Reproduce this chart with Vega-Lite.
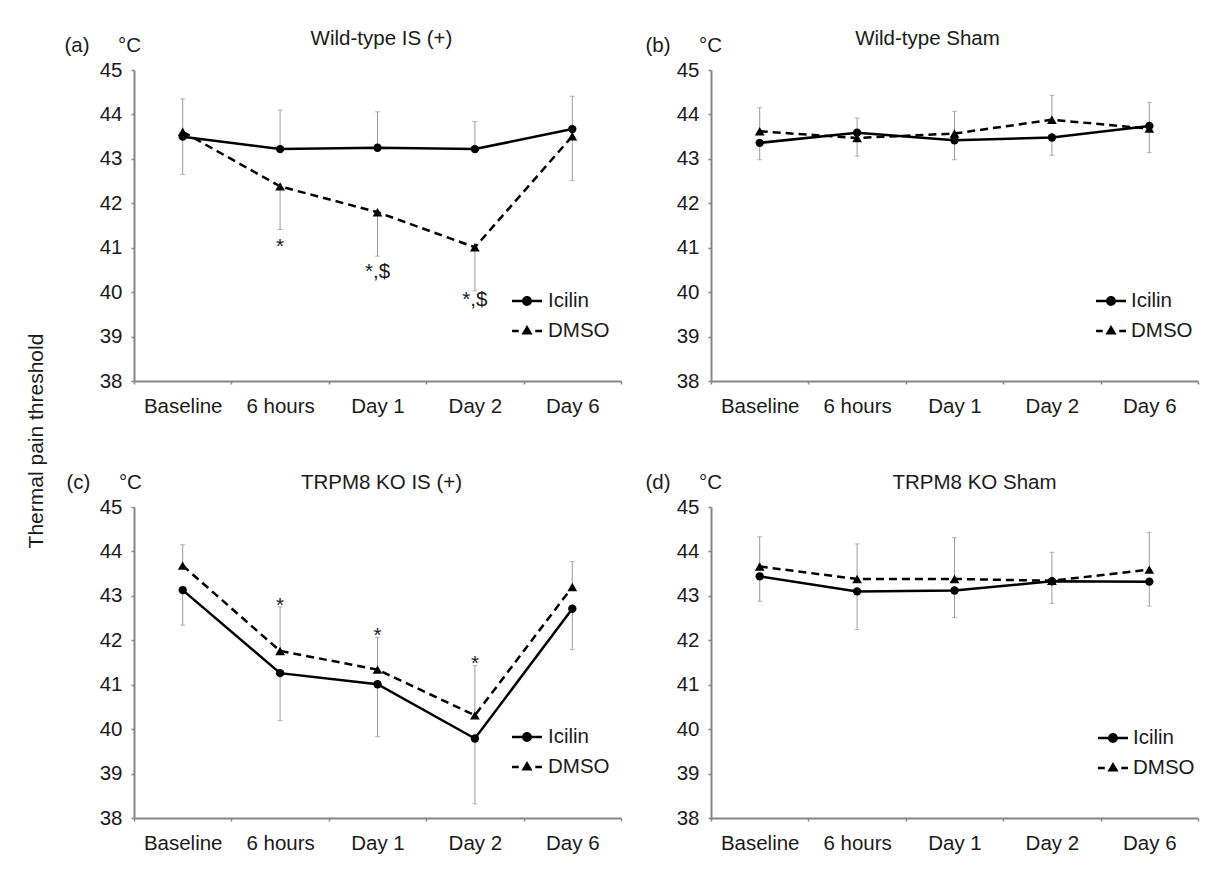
{
  "$schema": "https://vega.github.io/schema/vega-lite/v6.json",
  "padding": {"left": 25, "top": 28, "right": 5, "bottom": 5},
  "title": {"text": "Thermal pain threshold", "orient": "left", "anchor": "middle", "frame": "bounds", "fontSize": 21, "offset": 17},
  "datasets": {
    "pts": [
      {"panel": "a", "time": "Baseline", "i": 0, "treatment": "Icilin", "value": 43.50, "err": 44.35},
      {"panel": "a", "time": "6 hours", "i": 1, "treatment": "Icilin", "value": 43.22, "err": 44.10},
      {"panel": "a", "time": "Day 1", "i": 2, "treatment": "Icilin", "value": 43.25, "err": 44.06},
      {"panel": "a", "time": "Day 2", "i": 3, "treatment": "Icilin", "value": 43.22, "err": 43.84},
      {"panel": "a", "time": "Day 6", "i": 4, "treatment": "Icilin", "value": 43.67, "err": 44.41},
      {"panel": "a", "time": "Baseline", "i": 0, "treatment": "DMSO", "value": 43.61, "err": 42.65},
      {"panel": "a", "time": "6 hours", "i": 1, "treatment": "DMSO", "value": 42.38, "err": 41.41},
      {"panel": "a", "time": "Day 1", "i": 2, "treatment": "DMSO", "value": 41.80, "err": 40.81},
      {"panel": "a", "time": "Day 2", "i": 3, "treatment": "DMSO", "value": 41.01, "err": 40.03},
      {"panel": "a", "time": "Day 6", "i": 4, "treatment": "DMSO", "value": 43.51, "err": 42.51},
      {"panel": "b", "time": "Baseline", "i": 0, "treatment": "Icilin", "value": 43.36, "err": 42.98},
      {"panel": "b", "time": "6 hours", "i": 1, "treatment": "Icilin", "value": 43.59, "err": 43.92},
      {"panel": "b", "time": "Day 1", "i": 2, "treatment": "Icilin", "value": 43.42, "err": 42.98},
      {"panel": "b", "time": "Day 2", "i": 3, "treatment": "Icilin", "value": 43.48, "err": 43.08},
      {"panel": "b", "time": "Day 6", "i": 4, "treatment": "Icilin", "value": 43.74, "err": 44.27},
      {"panel": "b", "time": "Baseline", "i": 0, "treatment": "DMSO", "value": 43.62, "err": 44.15},
      {"panel": "b", "time": "6 hours", "i": 1, "treatment": "DMSO", "value": 43.47, "err": 43.06},
      {"panel": "b", "time": "Day 1", "i": 2, "treatment": "DMSO", "value": 43.57, "err": 44.07},
      {"panel": "b", "time": "Day 2", "i": 3, "treatment": "DMSO", "value": 43.88, "err": 44.43},
      {"panel": "b", "time": "Day 6", "i": 4, "treatment": "DMSO", "value": 43.68, "err": 43.14},
      {"panel": "c", "time": "Baseline", "i": 0, "treatment": "Icilin", "value": 43.13, "err": 42.34},
      {"panel": "c", "time": "6 hours", "i": 1, "treatment": "Icilin", "value": 41.26, "err": 40.19},
      {"panel": "c", "time": "Day 1", "i": 2, "treatment": "Icilin", "value": 41.01, "err": 39.83},
      {"panel": "c", "time": "Day 2", "i": 3, "treatment": "Icilin", "value": 39.79, "err": 38.32},
      {"panel": "c", "time": "Day 6", "i": 4, "treatment": "Icilin", "value": 42.71, "err": 41.79},
      {"panel": "c", "time": "Baseline", "i": 0, "treatment": "DMSO", "value": 43.68, "err": 44.15},
      {"panel": "c", "time": "6 hours", "i": 1, "treatment": "DMSO", "value": 41.76, "err": 42.75},
      {"panel": "c", "time": "Day 1", "i": 2, "treatment": "DMSO", "value": 41.34, "err": 42.07},
      {"panel": "c", "time": "Day 2", "i": 3, "treatment": "DMSO", "value": 40.31, "err": 41.43},
      {"panel": "c", "time": "Day 6", "i": 4, "treatment": "DMSO", "value": 43.20, "err": 43.77},
      {"panel": "d", "time": "Baseline", "i": 0, "treatment": "Icilin", "value": 43.44, "err": 42.88},
      {"panel": "d", "time": "6 hours", "i": 1, "treatment": "Icilin", "value": 43.10, "err": 42.24},
      {"panel": "d", "time": "Day 1", "i": 2, "treatment": "Icilin", "value": 43.12, "err": 42.51},
      {"panel": "d", "time": "Day 2", "i": 3, "treatment": "Icilin", "value": 43.33, "err": 42.83},
      {"panel": "d", "time": "Day 6", "i": 4, "treatment": "Icilin", "value": 43.32, "err": 42.77},
      {"panel": "d", "time": "Baseline", "i": 0, "treatment": "DMSO", "value": 43.66, "err": 44.33},
      {"panel": "d", "time": "6 hours", "i": 1, "treatment": "DMSO", "value": 43.38, "err": 44.17},
      {"panel": "d", "time": "Day 1", "i": 2, "treatment": "DMSO", "value": 43.38, "err": 44.31},
      {"panel": "d", "time": "Day 2", "i": 3, "treatment": "DMSO", "value": 43.34, "err": 43.98},
      {"panel": "d", "time": "Day 6", "i": 4, "treatment": "DMSO", "value": 43.59, "err": 44.43}
    ],
    "ann": [
      {"panel": "a", "time": "6 hours", "label": "*", "y": 40.89},
      {"panel": "a", "time": "Day 1", "label": "*,$", "y": 40.32},
      {"panel": "a", "time": "Day 2", "label": "*,$", "y": 39.68},
      {"panel": "c", "time": "6 hours", "label": "*", "y": 42.64},
      {"panel": "c", "time": "Day 1", "label": "*", "y": 41.97},
      {"panel": "c", "time": "Day 2", "label": "*", "y": 41.33}
    ]
  },
  "columns": 2,
  "spacing": {"row": 55, "column": 23},
  "resolve": {"scale": {"shape": "independent"}, "legend": {"shape": "independent"}},
  "concat": [
    {
      "width": 487, "height": 311,
      "title": {"text": "Wild-type IS (+)", "dx": 4, "dy": 18},
      "encoding": {
        "x": {"field": "time", "type": "nominal", "sort": ["Baseline", "6 hours", "Day 1", "Day 2", "Day 6"], "scale": {"type": "band", "paddingInner": 0, "paddingOuter": 0}, "axis": {"title": null}},
        "y": {"field": "value", "type": "quantitative", "scale": {"domain": [38, 45], "nice": false, "zero": false}, "axis": {"title": "(a)\u00a0\u00a0\u00a0\u00a0\u00a0°C", "titleX": -70, "titleY": -19}}
      },
      "layer": [
        {"data": {"name": "pts"}, "transform": [{"filter": "datum.panel === 'a'"}], "mark": {"type": "rule", "color": "#9a9a9a", "strokeWidth": 1}, "encoding": {"y2": {"field": "err"}}},
        {"data": {"name": "pts"}, "transform": [{"filter": "datum.panel === 'a'"}], "mark": {"type": "tick", "orient": "horizontal", "size": 5, "thickness": 1, "color": "#9a9a9a"}, "encoding": {"y": {"field": "err", "type": "quantitative", "scale": {"domain": [38, 45], "nice": false, "zero": false}, "axis": {"title": "(a)\u00a0\u00a0\u00a0\u00a0\u00a0°C", "titleX": -70, "titleY": -19}}}},
        {"data": {"name": "pts"}, "transform": [{"filter": "datum.panel === 'a' && datum.treatment === 'Icilin'"}], "mark": {"type": "line", "color": "black", "strokeWidth": 2.5}, "encoding": {"order": {"field": "i"}}},
        {"data": {"name": "pts"}, "transform": [{"filter": "datum.panel === 'a' && datum.treatment === 'DMSO'"}], "mark": {"type": "line", "color": "black", "strokeWidth": 2.5, "strokeDash": [8, 5]}, "encoding": {"order": {"field": "i"}}},
        {"data": {"name": "pts"}, "transform": [{"filter": "datum.panel === 'a' && datum.treatment === 'Icilin'"}], "mark": {"type": "point", "shape": "circle", "filled": true, "color": "black", "opacity": 1, "size": 70}},
        {"data": {"name": "pts"}, "transform": [{"filter": "datum.panel === 'a' && datum.treatment === 'DMSO'"}], "mark": {"type": "point", "shape": "triangle-up", "filled": true, "color": "black", "opacity": 1, "size": 95}},
        {"data": {"name": "pts"}, "transform": [{"filter": "datum.panel === 'a' && datum.i < 0"}], "mark": {"type": "point", "filled": true, "color": "black", "opacity": 1}, "encoding": {"shape": {"field": "treatment", "type": "nominal", "scale": {"domain": ["Icilin", "DMSO"], "range": ["M-1,-0.085L1,-0.085L1,0.085L-1,0.085ZM-0.33,0A0.33,0.33,0,1,1,0.33,0A0.33,0.33,0,1,1,-0.33,0Z", "M-1,-0.085L-0.55,-0.085L-0.55,0.085L-1,0.085ZM0.55,-0.085L1,-0.085L1,0.085L0.55,0.085ZM0,-0.4L0.37,0.24L-0.37,0.24Z"]}, "legend": {"title": null, "orient": "none", "legendX": 377, "legendY": 215, "symbolSize": 900, "labelFontSize": 20.5, "labelOffset": 5, "rowPadding": 3, "padding": 0, "labelColor": "#1a1a1a"}}}},
        {"data": {"name": "ann"}, "transform": [{"filter": "datum.panel === 'a'"}], "mark": {"type": "text", "fontSize": 20.5, "baseline": "alphabetic", "color": "#1a1a1a"}, "encoding": {"text": {"field": "label"}, "y": {"field": "y", "type": "quantitative", "scale": {"domain": [38, 45], "nice": false, "zero": false}, "axis": {"title": "(a)\u00a0\u00a0\u00a0\u00a0\u00a0°C", "titleX": -70, "titleY": -19}}}}
      ]
    },
    {
      "width": 487, "height": 311,
      "title": {"text": "Wild-type Sham", "dx": -27, "dy": 18},
      "encoding": {
        "x": {"field": "time", "type": "nominal", "sort": ["Baseline", "6 hours", "Day 1", "Day 2", "Day 6"], "scale": {"type": "band", "paddingInner": 0, "paddingOuter": 0}, "axis": {"title": null}},
        "y": {"field": "value", "type": "quantitative", "scale": {"domain": [38, 45], "nice": false, "zero": false}, "axis": {"title": "(b)\u00a0\u00a0\u00a0\u00a0\u00a0°C", "titleX": -66, "titleY": -19}}
      },
      "layer": [
        {"data": {"name": "pts"}, "transform": [{"filter": "datum.panel === 'b'"}], "mark": {"type": "rule", "color": "#9a9a9a", "strokeWidth": 1}, "encoding": {"y2": {"field": "err"}}},
        {"data": {"name": "pts"}, "transform": [{"filter": "datum.panel === 'b'"}], "mark": {"type": "tick", "orient": "horizontal", "size": 5, "thickness": 1, "color": "#9a9a9a"}, "encoding": {"y": {"field": "err", "type": "quantitative", "scale": {"domain": [38, 45], "nice": false, "zero": false}, "axis": {"title": "(b)\u00a0\u00a0\u00a0\u00a0\u00a0°C", "titleX": -66, "titleY": -19}}}},
        {"data": {"name": "pts"}, "transform": [{"filter": "datum.panel === 'b' && datum.treatment === 'Icilin'"}], "mark": {"type": "line", "color": "black", "strokeWidth": 2.5}, "encoding": {"order": {"field": "i"}}},
        {"data": {"name": "pts"}, "transform": [{"filter": "datum.panel === 'b' && datum.treatment === 'DMSO'"}], "mark": {"type": "line", "color": "black", "strokeWidth": 2.5, "strokeDash": [8, 5]}, "encoding": {"order": {"field": "i"}}},
        {"data": {"name": "pts"}, "transform": [{"filter": "datum.panel === 'b' && datum.treatment === 'Icilin'"}], "mark": {"type": "point", "shape": "circle", "filled": true, "color": "black", "opacity": 1, "size": 70}},
        {"data": {"name": "pts"}, "transform": [{"filter": "datum.panel === 'b' && datum.treatment === 'DMSO'"}], "mark": {"type": "point", "shape": "triangle-up", "filled": true, "color": "black", "opacity": 1, "size": 95}},
        {"data": {"name": "pts"}, "transform": [{"filter": "datum.panel === 'b' && datum.i < 0"}], "mark": {"type": "point", "filled": true, "color": "black", "opacity": 1}, "encoding": {"shape": {"field": "treatment", "type": "nominal", "scale": {"domain": ["Icilin", "DMSO"], "range": ["M-1,-0.085L1,-0.085L1,0.085L-1,0.085ZM-0.33,0A0.33,0.33,0,1,1,0.33,0A0.33,0.33,0,1,1,-0.33,0Z", "M-1,-0.085L-0.55,-0.085L-0.55,0.085L-1,0.085ZM0.55,-0.085L1,-0.085L1,0.085L0.55,0.085ZM0,-0.4L0.37,0.24L-0.37,0.24Z"]}, "legend": {"title": null, "orient": "none", "legendX": 384, "legendY": 215, "symbolSize": 900, "labelFontSize": 20.5, "labelOffset": 4, "rowPadding": 3, "padding": 0, "labelColor": "#1a1a1a"}}}}
      ]
    },
    {
      "width": 487, "height": 311,
      "title": {"text": "TRPM8 KO IS (+)", "dx": 4, "dy": 25},
      "encoding": {
        "x": {"field": "time", "type": "nominal", "sort": ["Baseline", "6 hours", "Day 1", "Day 2", "Day 6"], "scale": {"type": "band", "paddingInner": 0, "paddingOuter": 0}, "axis": {"title": null}},
        "y": {"field": "value", "type": "quantitative", "scale": {"domain": [38, 45], "nice": false, "zero": false}, "axis": {"title": "(c)\u00a0\u00a0\u00a0\u00a0\u00a0°C", "titleX": -68, "titleY": -19}}
      },
      "layer": [
        {"data": {"name": "pts"}, "transform": [{"filter": "datum.panel === 'c'"}], "mark": {"type": "rule", "color": "#9a9a9a", "strokeWidth": 1}, "encoding": {"y2": {"field": "err"}}},
        {"data": {"name": "pts"}, "transform": [{"filter": "datum.panel === 'c'"}], "mark": {"type": "tick", "orient": "horizontal", "size": 5, "thickness": 1, "color": "#9a9a9a"}, "encoding": {"y": {"field": "err", "type": "quantitative", "scale": {"domain": [38, 45], "nice": false, "zero": false}, "axis": {"title": "(c)\u00a0\u00a0\u00a0\u00a0\u00a0°C", "titleX": -68, "titleY": -19}}}},
        {"data": {"name": "pts"}, "transform": [{"filter": "datum.panel === 'c' && datum.treatment === 'Icilin'"}], "mark": {"type": "line", "color": "black", "strokeWidth": 2.5}, "encoding": {"order": {"field": "i"}}},
        {"data": {"name": "pts"}, "transform": [{"filter": "datum.panel === 'c' && datum.treatment === 'DMSO'"}], "mark": {"type": "line", "color": "black", "strokeWidth": 2.5, "strokeDash": [8, 5]}, "encoding": {"order": {"field": "i"}}},
        {"data": {"name": "pts"}, "transform": [{"filter": "datum.panel === 'c' && datum.treatment === 'Icilin'"}], "mark": {"type": "point", "shape": "circle", "filled": true, "color": "black", "opacity": 1, "size": 70}},
        {"data": {"name": "pts"}, "transform": [{"filter": "datum.panel === 'c' && datum.treatment === 'DMSO'"}], "mark": {"type": "point", "shape": "triangle-up", "filled": true, "color": "black", "opacity": 1, "size": 95}},
        {"data": {"name": "pts"}, "transform": [{"filter": "datum.panel === 'c' && datum.i < 0"}], "mark": {"type": "point", "filled": true, "color": "black", "opacity": 1}, "encoding": {"shape": {"field": "treatment", "type": "nominal", "scale": {"domain": ["Icilin", "DMSO"], "range": ["M-1,-0.085L1,-0.085L1,0.085L-1,0.085ZM-0.33,0A0.33,0.33,0,1,1,0.33,0A0.33,0.33,0,1,1,-0.33,0Z", "M-1,-0.085L-0.55,-0.085L-0.55,0.085L-1,0.085ZM0.55,-0.085L1,-0.085L1,0.085L0.55,0.085ZM0,-0.4L0.37,0.24L-0.37,0.24Z"]}, "legend": {"title": null, "orient": "none", "legendX": 377, "legendY": 214, "symbolSize": 900, "labelFontSize": 20.5, "labelOffset": 5, "rowPadding": 3, "padding": 0, "labelColor": "#1a1a1a"}}}},
        {"data": {"name": "ann"}, "transform": [{"filter": "datum.panel === 'c'"}], "mark": {"type": "text", "fontSize": 20.5, "baseline": "alphabetic", "color": "#1a1a1a"}, "encoding": {"text": {"field": "label"}, "y": {"field": "y", "type": "quantitative", "scale": {"domain": [38, 45], "nice": false, "zero": false}, "axis": {"title": "(c)\u00a0\u00a0\u00a0\u00a0\u00a0°C", "titleX": -68, "titleY": -19}}}}
      ]
    },
    {
      "width": 487, "height": 311,
      "title": {"text": "TRPM8 KO Sham", "dx": 20, "dy": 25},
      "encoding": {
        "x": {"field": "time", "type": "nominal", "sort": ["Baseline", "6 hours", "Day 1", "Day 2", "Day 6"], "scale": {"type": "band", "paddingInner": 0, "paddingOuter": 0}, "axis": {"title": null}},
        "y": {"field": "value", "type": "quantitative", "scale": {"domain": [38, 45], "nice": false, "zero": false}, "axis": {"title": "(d)\u00a0\u00a0\u00a0\u00a0\u00a0°C", "titleX": -66, "titleY": -19}}
      },
      "layer": [
        {"data": {"name": "pts"}, "transform": [{"filter": "datum.panel === 'd'"}], "mark": {"type": "rule", "color": "#9a9a9a", "strokeWidth": 1}, "encoding": {"y2": {"field": "err"}}},
        {"data": {"name": "pts"}, "transform": [{"filter": "datum.panel === 'd'"}], "mark": {"type": "tick", "orient": "horizontal", "size": 5, "thickness": 1, "color": "#9a9a9a"}, "encoding": {"y": {"field": "err", "type": "quantitative", "scale": {"domain": [38, 45], "nice": false, "zero": false}, "axis": {"title": "(d)\u00a0\u00a0\u00a0\u00a0\u00a0°C", "titleX": -66, "titleY": -19}}}},
        {"data": {"name": "pts"}, "transform": [{"filter": "datum.panel === 'd' && datum.treatment === 'Icilin'"}], "mark": {"type": "line", "color": "black", "strokeWidth": 2.5}, "encoding": {"order": {"field": "i"}}},
        {"data": {"name": "pts"}, "transform": [{"filter": "datum.panel === 'd' && datum.treatment === 'DMSO'"}], "mark": {"type": "line", "color": "black", "strokeWidth": 2.5, "strokeDash": [8, 5]}, "encoding": {"order": {"field": "i"}}},
        {"data": {"name": "pts"}, "transform": [{"filter": "datum.panel === 'd' && datum.treatment === 'Icilin'"}], "mark": {"type": "point", "shape": "circle", "filled": true, "color": "black", "opacity": 1, "size": 70}},
        {"data": {"name": "pts"}, "transform": [{"filter": "datum.panel === 'd' && datum.treatment === 'DMSO'"}], "mark": {"type": "point", "shape": "triangle-up", "filled": true, "color": "black", "opacity": 1, "size": 95}},
        {"data": {"name": "pts"}, "transform": [{"filter": "datum.panel === 'd' && datum.i < 0"}], "mark": {"type": "point", "filled": true, "color": "black", "opacity": 1}, "encoding": {"shape": {"field": "treatment", "type": "nominal", "scale": {"domain": ["Icilin", "DMSO"], "range": ["M-1,-0.085L1,-0.085L1,0.085L-1,0.085ZM-0.33,0A0.33,0.33,0,1,1,0.33,0A0.33,0.33,0,1,1,-0.33,0Z", "M-1,-0.085L-0.55,-0.085L-0.55,0.085L-1,0.085ZM0.55,-0.085L1,-0.085L1,0.085L0.55,0.085ZM0,-0.4L0.37,0.24L-0.37,0.24Z"]}, "legend": {"title": null, "orient": "none", "legendX": 386, "legendY": 215, "symbolSize": 900, "labelFontSize": 20.5, "labelOffset": 4, "rowPadding": 3, "padding": 0, "labelColor": "#1a1a1a"}}}}
      ]
    }
  ],
  "config": {
    "font": "Liberation Sans",
    "view": {"stroke": null},
    "axis": {"domainColor": "#858585", "domainWidth": 2, "tickColor": "#858585", "tickWidth": 1.5, "tickSize": 3, "labelFontSize": 20.5, "labelColor": "#1a1a1a", "grid": false, "titleFontSize": 20.5, "titleFontWeight": "normal", "titleColor": "#1a1a1a"},
    "axisX": {"labelAngle": 0, "tickBand": "extent", "labelPadding": 12},
    "axisY": {"values": [38, 39, 40, 41, 42, 43, 44, 45], "labelPadding": 9, "titleAngle": 0, "titleAlign": "left", "titleBaseline": "alphabetic"},
    "title": {"fontSize": 20.5, "fontWeight": "normal", "color": "#1a1a1a", "anchor": "middle", "frame": "group", "baseline": "alphabetic", "offset": 0}
  }
}
